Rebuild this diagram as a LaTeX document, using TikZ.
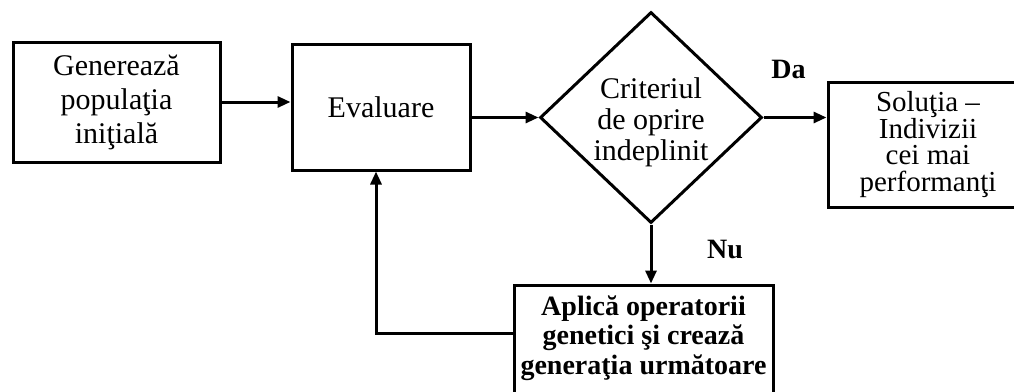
\documentclass[tikz,border=0pt]{standalone}
\usepackage{fontspec}
\setmainfont{Liberation Serif}
\usetikzlibrary{shapes.geometric,arrows.meta}
\begin{document}
\begin{tikzpicture}[x=1pt,y=-1pt,
  every node/.style={align=center, inner sep=0pt},
  txt/.style={font=\fontsize{30}{#1}\selectfont},
  smalltxt/.style={font=\fontsize{29}{#1}\selectfont},
  boldtxt/.style={font=\fontsize{28}{#1}\selectfont\bfseries},
  stepbox/.style={draw, line width=3pt, rectangle},
  decision/.style={draw, line width=3pt, diamond, aspect=1.05},
  flow/.style={line width=3pt, -{Triangle[length=13pt,width=11pt]}},
  answer/.style={font=\fontsize{28}{30}\selectfont\bfseries}]
\useasboundingbox (0,0) rectangle (1014,391);
\clip (0,0) rectangle (1014,391);

% process steps
\node[stepbox, txt=34, minimum width=207, minimum height=120] (gen) at (116.5,102)
  {Generează\\populaţia\\iniţială};
\node[stepbox, txt=34, minimum width=178, minimum height=126] (eval) at (381,107)
  {Evaluare};
\node[decision, txt=31, text height=93pt, minimum width=222, minimum height=211] (dia) at (651,117.5)
  {Criteriul\\de oprire\\indeplinit};
\node[stepbox, smalltxt=26.5, minimum width=200, minimum height=125] (sol) at (928,144.5)
  {Soluţia –\\Indivizii\\cei mai\\performanţi};
\node[stepbox, boldtxt=29.5, minimum width=259, minimum height=120, text depth=20pt] (ops) at (643.5,345)
  {Aplică operatorii\\genetici şi crează\\generaţia următoare};

% branch labels
\node[answer] (da) at (788.5,69) {Da};
\node[answer] (nu) at (725,249) {Nu};

% connectors
\draw[flow] (gen.east) -- (gen.east -| eval.west);
\draw[flow] (eval.east |- dia.west) -- (dia.west);
\draw[flow] (dia.east) -- (dia.east -| sol.west);
\draw[flow] (dia.south) -- (dia.south |- ops.north);
\draw[flow] ([yshift=12pt]ops.west) -| ([xshift=-5pt]eval.south);
\end{tikzpicture}
\end{document}
